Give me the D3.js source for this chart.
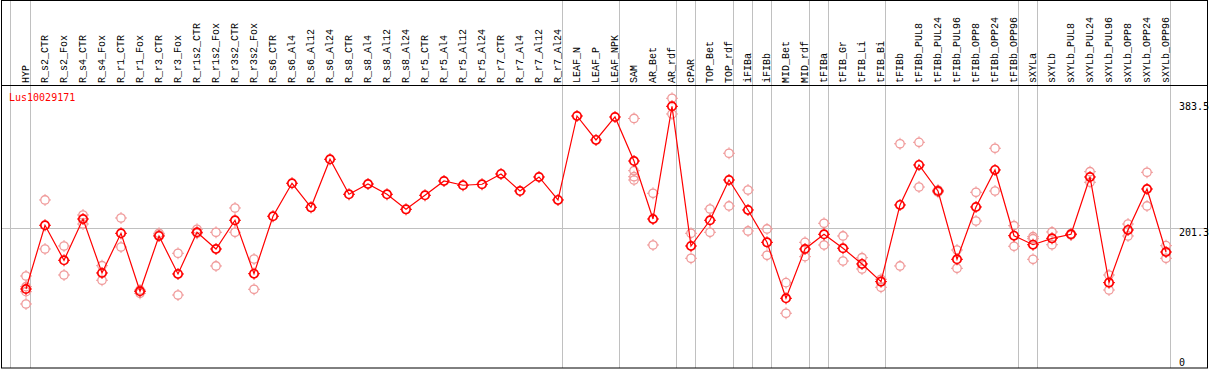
<!DOCTYPE html>
<html>
<head>
<meta charset="utf-8">
<script src="https://cdn.jsdelivr.net/npm/d3@7"></script>
<style>
	body { margin: 0; background: #fff; }
	svg { display: block; }
	text { font-family: "DejaVu Sans Mono", monospace; font-size: 10px; }
	text.cat { font-family: "Liberation Mono", "DejaVu Sans Mono", monospace; }
</style>
</head>
<body>
<svg id="chart" width="1209" height="370"></svg>
<script>
var geneName = "Lus10029171";

var categories = ["HYP", "R_s2_CTR", "R_s2_Fox", "R_s4_CTR", "R_s4_Fox", "R_r1_CTR", "R_r1_Fox",
	"R_r3_CTR", "R_r3_Fox", "R_r1s2_CTR", "R_r1s2_Fox", "R_r3s2_CTR", "R_r3s2_Fox", "R_s6_CTR",
	"R_s6_Al4", "R_s6_Al12", "R_s6_Al24", "R_s8_CTR", "R_s8_Al4", "R_s8_Al12", "R_s8_Al24",
	"R_r5_CTR", "R_r5_Al4", "R_r5_Al12", "R_r5_Al24", "R_r7_CTR", "R_r7_Al4", "R_r7_Al12",
	"R_r7_Al24", "LEAF_N", "LEAF_P", "LEAF_NPK", "SAM", "AR_Bet", "AR_rdf", "cPAR", "TOP_Bet",
	"TOP_rdf", "iFIBa", "iFIBb", "MID_Bet", "MID_rdf", "tFIBa", "tFIB_Gr", "tFIB_Li", "tFIB_Bi",
	"tFIBb", "tFIBb_PUL8", "tFIBb_PUL24", "tFIBb_PUL96", "tFIBb_OPP8", "tFIBb_OPP24",
	"tFIBb_OPP96", "sXYLa", "sXYLb", "sXYLb_PUL8", "sXYLb_PUL24", "sXYLb_PUL96", "sXYLb_OPP8",
	"sXYLb_OPP24", "sXYLb_OPP96"];

// mean expression per sample
var meanValues = [110.0, 205.4, 153.0, 214.8, 134.0, 193.4, 106.6, 189.4, 132.5, 194.9, 169.9,
	212.9, 132.9, 218.9, 268.3, 232.3, 304.2, 251.8, 267.2, 251.8, 229.3, 250.3, 271.7, 265.3,
	266.8, 282.2, 256.7, 277.7, 243.3, 369.0, 333.1, 367.5, 301.6, 214.8, 383.5, 174.4, 212.9,
	273.2, 228.3, 179.9, 96.1, 169.9, 191.9, 171.0, 147.5, 121.0, 235.8, 295.7, 256.7, 154.5,
	232.8, 288.2, 189.8, 176.3, 185.9, 191.9, 277.7, 119.5, 198.4, 259.7, 165.4];

// individual replicates (empty where none were drawn)
var replicateValues = [
	[129.5, 113.5, 106.0, 87.6], [243.3, 169.9], [174.4, 131.0], [220.8, 207.3], [144.9, 123.1],
	[216.3, 172.9], [108.5, 103.6], [193.4, 190.9], [163.5, 101.0], [199.4, 193.4], [194.9, 144.5],
	[231.3, 194.9], [154.9, 109.6], [], [], [], [], [], [], [], [], [], [], [], [], [], [], [], [],
	[], [], [], [365.3, 287.1, 278.1, 273.2], [253.3, 175.9], [395.5, 372.0], [193.4, 156.0],
	[229.8, 194.9], [313.2, 234.3], [258.2, 196.9], [199.9, 160.5], [119.5, 73.7], [179.9, 158.4],
	[208.4, 175.9], [189.4, 151.9], [156.9, 140.0], [124.6, 112.6], [327.4, 144.5], [329.6, 262.7],
	[258.2, 255.0], [168.4, 141.0], [254.8, 211.8], [320.7, 256.7], [204.8, 174.0],
	[188.3, 185.3, 154.5], [195.4, 176.3], [192.8, 190.9], [285.6, 269.8], [131.0, 108.5],
	[207.3, 189.4], [284.7, 234.3], [174.9, 156.0]];

// samples after which a separator is drawn
var groupEnds = ["HYP", "R_r7_Al24", "LEAF_NPK", "AR_rdf", "cPAR", "TOP_rdf", "iFIBa", "iFIBb",
	"MID_rdf", "tFIBa", "tFIB_Bi", "tFIBb_OPP96", "sXYLa", "sXYLb_OPP96"];

var yTicks = [0, 201.3, 383.5];

var svg = d3.select("#chart");
var headerBottom = 85, bottom = 368;

var x = d3.scalePoint().domain(categories).range([26, 1166]);
var y = d3.scaleLinear().domain([0, 383.5]).range([362.5, 106.3]);

var grey = "#c0c0c0", red = "#ff0000", pink = "#f09a9a";

// grid
svg.append("line")
	.attr("x1", 1).attr("x2", 1207)
	.attr("y1", Math.round(y(201.3)) + 0.5).attr("y2", Math.round(y(201.3)) + 0.5)
	.attr("stroke", grey);

var sepX = [x(categories[0]) - 16].concat(groupEnds.map(function (c) { return x(c) + 4; }));
svg.selectAll("line.sep")
	.data(sepX)
	.enter().append("line")
	.attr("class", "sep")
	.attr("x1", function (d) { return Math.round(d) + 0.5; })
	.attr("x2", function (d) { return Math.round(d) + 0.5; })
	.attr("y1", 0).attr("y2", bottom)
	.attr("stroke", grey);

// frame
svg.append("rect")
	.attr("x", 1.5).attr("y", 0.5)
	.attr("width", 1206).attr("height", bottom - 0.5)
	.attr("fill", "none").attr("stroke", "#000");
svg.append("line")
	.attr("x1", 1).attr("x2", 1207)
	.attr("y1", headerBottom + 0.5).attr("y2", headerBottom + 0.5)
	.attr("stroke", "#000").attr("stroke-width", 1.2);

// sample labels
svg.selectAll("text.cat")
	.data(categories)
	.enter().append("text")
	.attr("class", "cat")
	.attr("transform", function (d) { return "translate(" + Math.round(x(d)) + "," + (headerBottom - 2) + ") rotate(-90)"; })
	.attr("dy", "0.3em")
	.attr("fill", "#000")
	.text(function (d) { return d; });

svg.append("text")
	.attr("x", 9).attr("y", 101)
	.attr("fill", red)
	.text(geneName);

// value labels on the right
svg.selectAll("text.ytick")
	.data(yTicks)
	.enter().append("text")
	.attr("class", "ytick")
	.attr("x", 1179)
	.attr("y", function (d) { return y(d) + (d === 201.3 ? 4.5 : 0); })
	.attr("dy", "0.35em")
	.attr("fill", "#000")
	.text(function (d) { return d; });

function marker(sel, color, sw) {
	sel.append("circle")
		.attr("r", 4.2)
		.attr("fill", "none")
		.attr("stroke", color)
		.attr("stroke-width", sw);
	sel.append("path")
		.attr("d", "M0,-4V-6M0,4V6M-4,0H-6M4,0H6")
		.attr("stroke", color)
		.attr("stroke-width", 1);
}

// replicates
var reps = [];
replicateValues.forEach(function (vals, i) {
	vals.forEach(function (v) { reps.push({cat: categories[i], value: v}); });
});
svg.selectAll("g.rep")
	.data(reps)
	.enter().append("g")
	.attr("class", "rep")
	.attr("transform", function (d) { return "translate(" + x(d.cat) + "," + y(d.value) + ")"; })
	.call(marker, pink, 1.3);

// mean line
var line = d3.line()
	.x(function (d, i) { return x(categories[i]); })
	.y(function (d) { return y(d); });
svg.append("path")
	.datum(meanValues)
	.attr("d", line)
	.attr("fill", "none")
	.attr("stroke", red)
	.attr("stroke-width", 1.2);

svg.selectAll("g.mean")
	.data(meanValues)
	.enter().append("g")
	.attr("class", "mean")
	.attr("transform", function (d, i) { return "translate(" + x(categories[i]) + "," + y(d) + ")"; })
	.call(marker, red, 1.7);
</script>
</body>
</html>
